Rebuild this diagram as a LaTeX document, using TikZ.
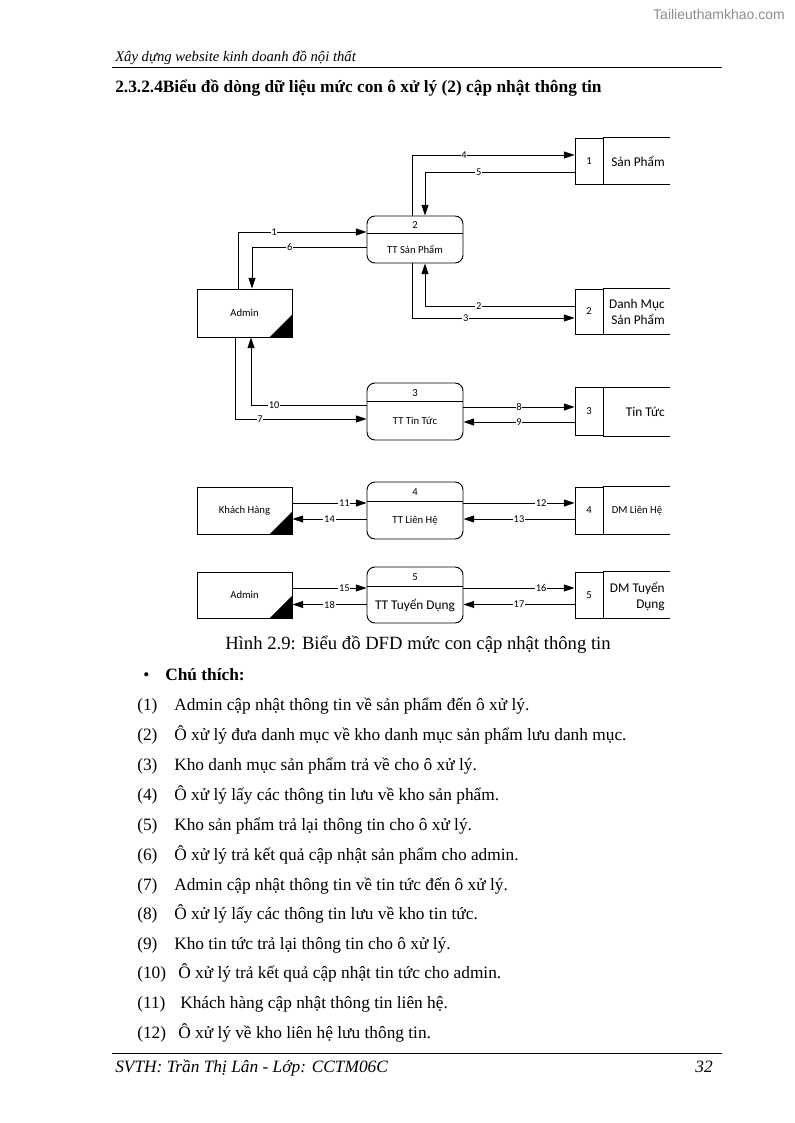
\documentclass[tikz,border=0pt]{standalone}
\usepackage{fontspec}
\setmainfont{Liberation Serif}
\newfontfamily\dfont{Carlito}
\newfontfamily\wfont{Liberation Sans}
\usetikzlibrary{calc,arrows.meta}
\begin{document}
\begin{tikzpicture}[x=0.75pt,y=-0.75pt,
  flow/.style={draw, line width=0.7pt, -{Triangle[length=8pt,width=5.2pt]}},
  lbl/.style={fill=white, inner sep=0.6pt, font=\dfont\fontsize{7.8}{8}\selectfont},
  ent/.style={draw, line width=0.7pt, minimum width=71.25pt, inner sep=0pt, font=\dfont\fontsize{8}{9}\selectfont},
  proc/.style={draw, line width=0.7pt, rounded corners=6pt, minimum width=72pt, inner sep=0pt},
  snum/.style={draw, line width=0.7pt, minimum width=21pt, inner sep=0pt, font=\dfont\fontsize{8}{9}\selectfont},
  small/.style={inner sep=0pt, font=\dfont\fontsize{8}{9}\selectfont},
  big/.style={inner sep=0pt, font=\dfont\fontsize{10}{12}\selectfont, align=right},
  body/.style={inner sep=0pt, anchor=base west, font=\fontsize{13}{15}\selectfont},
  tri/.style={fill=black}
]
\useasboundingbox (0,0) rectangle (794,1123);
% watermark
\node[anchor=east, inner sep=0pt, text=black!45, font=\wfont\fontsize{10.5}{12}\selectfont] (wm) at (785,14) {Tailieuthamkhao.com};
% header
\node[anchor=base west, inner sep=0pt, font=\itshape\fontsize{11}{13}\selectfont] (hdr) at (115,62) {Xây dựng website kinh doanh đồ nội thất};
\coordinate (hl1) at (112,67.5); \coordinate (hl2) at (722,67.5);
\draw[line width=0.7pt] (hl1) -- (hl2);
\node[anchor=base west, inner sep=0pt, font=\bfseries\fontsize{13}{15}\selectfont] (ttl) at (115,93) {2.3.2.4Biểu đồ dòng dữ liệu mức con ô xử lý (2) cập nhật thông tin};

% entities
\node[ent, minimum height=36pt] (adm) at (244.5,313) {Admin};
\node[ent, minimum height=35.25pt] (kh) at (244.5,510.5) {Khách Hàng};
\node[ent, minimum height=34.5pt] (adm2) at (244.5,595) {Admin};
\foreach \n in {adm,kh,adm2}{
  \fill[tri] (\n.south east) -- ++(-23,0) -- ++(23,-23) -- cycle;
}

% processes
\node[proc, minimum height=35.25pt] (p2) at (415,239.5) {};
\draw[line width=0.7pt] ($(p2.north west)+(0,18)$) -- ($(p2.north east)+(0,18)$);
\node[small] (p2n) at (415,225) {2};
\node[small] (p2t) at (415,249) {TT Sản Phẩm};

\node[proc, minimum height=42.75pt] (p3) at (415,411.5) {};
\draw[line width=0.7pt] ($(p3.north west)+(0,19)$) -- ($(p3.north east)+(0,19)$);
\node[small] (p3n) at (415,393) {3};
\node[small] (p3t) at (415,421) {TT Tin Tức};

\node[proc, minimum height=42.75pt] (p4) at (415,510.5) {};
\draw[line width=0.7pt] ($(p4.north west)+(0,20)$) -- ($(p4.north east)+(0,20)$);
\node[small] (p4n) at (415,492) {4};
\node[small] (p4t) at (415,521) {TT Liên Hệ};

\node[proc, minimum height=42pt] (p5) at (415,595) {};
\draw[line width=0.7pt] ($(p5.north west)+(0,20)$) -- ($(p5.north east)+(0,20)$);
\node[small] (p5n) at (415,577) {5};
\node[big] (p5t) at (415,605) {TT Tuyển Dụng};

% stores
\node[snum, minimum height=34.5pt] (s1) at (589,161) {1};
\node[snum, minimum height=33.75pt] (s2) at (589,311.5) {2};
\node[snum, minimum height=36pt] (s3) at (589,411.5) {3};
\node[snum, minimum height=35.25pt] (s4) at (589,510.5) {4};
\node[snum, minimum height=34.5pt] (s5) at (589,595) {5};
\foreach \n in {s1,s2,s3,s4,s5}{
  \draw[line width=0.7pt] (\n.north east) -- ++(67,0);
  \draw[line width=0.7pt] (\n.south east) -- ++(67,0);
}
\node[big, anchor=east] (s1t) at (665,161) {Sản Phẩm};
\node[big, anchor=east] (s2t) at (665,312) {Danh Mục\\Sản Phẩm};
\node[big, anchor=east] (s3t) at (665,412) {Tin Tức};
\node[small] (s4t) at (637,511) {DM Liên Hệ};
\node[big, anchor=east] (s5t) at (665,596) {DM Tuyển\\Dụng};

% flows: product
\draw[flow] ($(adm.north)+(-6.5,0)$) |- ($(p2.west)+(0,-7.5)$) node[lbl, pos=0.64] {1};
\draw[flow] ($(p2.west)+(0,7.5)$) -| ($(adm.north)+(7.5,0)$) node[lbl, pos=0.335] {6};
\draw[flow] ($(p2.north)+(-3,0)$) |- ($(s1.west)+(0,-6)$) node[lbl, pos=0.66] {4};
\draw[flow] ($(s1.west)+(0,11)$) -| ($(p2.north)+(10,0)$) node[lbl, pos=0.32] {5};
\draw[flow] ($(s2.west)+(0,-5.5)$) -| ($(p2.south)+(10,0)$) node[lbl, pos=0.32] {2};
\draw[flow] ($(p2.south)+(-3,0)$) |- ($(s2.west)+(0,6.5)$) node[lbl, pos=0.665] {3};
% news
\draw[flow] ($(adm.south)+(-9.5,0)$) |- ($(p3.west)+(0,7.5)$) node[lbl, pos=0.595] {7};
\draw[flow] ($(p3.west)+(0,-6.5)$) -| ($(adm.south)+(6.5,0)$) node[lbl, pos=0.40] {10};
\draw[flow] ($(p3.east)+(0,-4.5)$) -- ($(s3.west)+(0,-4.5)$) node[lbl, pos=0.5] {8};
\draw[flow] ($(s3.west)+(0,10.5)$) -- ($(p3.east)+(0,10.5)$) node[lbl, pos=0.5] {9};
% contact
\draw[flow] ($(kh.east)+(0,-7.5)$) -- ($(p4.west)+(0,-7.5)$) node[lbl, pos=0.7] {11};
\draw[flow] ($(p4.west)+(0,8.5)$) -- ($(kh.east)+(0,8.5)$) node[lbl, pos=0.5] {14};
\draw[flow] ($(p4.east)+(0,-7.5)$) -- ($(s4.west)+(0,-7.5)$) node[lbl, pos=0.7] {12};
\draw[flow] ($(s4.west)+(0,8.5)$) -- ($(p4.east)+(0,8.5)$) node[lbl, pos=0.5] {13};
% recruitment
\draw[flow] ($(adm2.east)+(0,-7)$) -- ($(p5.west)+(0,-7)$) node[lbl, pos=0.7] {15};
\draw[flow] ($(p5.west)+(0,9.5)$) -- ($(adm2.east)+(0,9.5)$) node[lbl, pos=0.5] {18};
\draw[flow] ($(p5.east)+(0,-7)$) -- ($(s5.west)+(0,-7)$) node[lbl, pos=0.7] {16};
\draw[flow] ($(s5.west)+(0,9.5)$) -- ($(p5.east)+(0,9.5)$) node[lbl, pos=0.5] {17};

% caption
\node[anchor=base, inner sep=0pt, font=\fontsize{14}{16}\selectfont] (cap) at (418,649) {Hình 2.9: Biểu đồ DFD mức con cập nhật thông tin};
\node[body] (bul) at (143,680) {\textbullet};
\node[body, font=\bfseries\fontsize{13}{15}\selectfont] (ct) at (165,680) {Chú thích:};
% list
\node[body] (n1) at (137,710) {(1)}; \node[body] (t1) at (174,710) {Admin cập nhật thông tin về sản phẩm đến ô xử lý.};
\node[body] (n2) at (137,740) {(2)}; \node[body] (t2) at (174,740) {Ô xử lý đưa danh mục về kho danh mục sản phẩm lưu danh mục.};
\node[body] (n3) at (137,770) {(3)}; \node[body] (t3) at (174,770) {Kho danh mục sản phẩm trả về cho ô xử lý.};
\node[body] (n4) at (137,800) {(4)}; \node[body] (t4) at (174,800) {Ô xử lý lấy các thông tin lưu về kho sản phẩm.};
\node[body] (n5) at (137,830) {(5)}; \node[body] (t5) at (174,830) {Kho sản phẩm trả lại thông tin cho ô xử lý.};
\node[body] (n6) at (137,860) {(6)}; \node[body] (t6) at (174,860) {Ô xử lý trả kết quả cập nhật sản phẩm cho admin.};
\node[body] (n7) at (137,890) {(7)}; \node[body] (t7) at (174,890) {Admin cập nhật thông tin về tin tức đến ô xử lý.};
\node[body] (n8) at (137,919) {(8)}; \node[body] (t8) at (174,919) {Ô xử lý lấy các thông tin lưu về kho tin tức.};
\node[body] (n9) at (137,949) {(9)}; \node[body] (t9) at (174,949) {Kho tin tức trả lại thông tin cho ô xử lý.};
\node[body] (n10) at (137,978) {(10)}; \node[body] (t10) at (178,978) {Ô xử lý trả kết quả cập nhật tin tức cho admin.};
\node[body] (n11) at (137,1008) {(11)}; \node[body] (t11) at (180,1008) {Khách hàng cập nhật thông tin liên hệ.};
\node[body] (n12) at (137,1038) {(12)}; \node[body] (t12) at (178,1038) {Ô xử lý về kho liên hệ lưu thông tin.};
% footer
\coordinate (fl1) at (112,1053.5); \coordinate (fl2) at (722,1053.5);
\draw[line width=0.7pt] (fl1) -- (fl2);
\node[anchor=base west, inner sep=0pt, font=\itshape\fontsize{13}{15}\selectfont] (ftl) at (115,1072) {SVTH: Trần Thị Lân - Lớp: CCTM06C};
\node[anchor=base east, inner sep=0pt, font=\itshape\fontsize{13}{15}\selectfont] (ftr) at (713,1072) {32};
\end{tikzpicture}
\end{document}
